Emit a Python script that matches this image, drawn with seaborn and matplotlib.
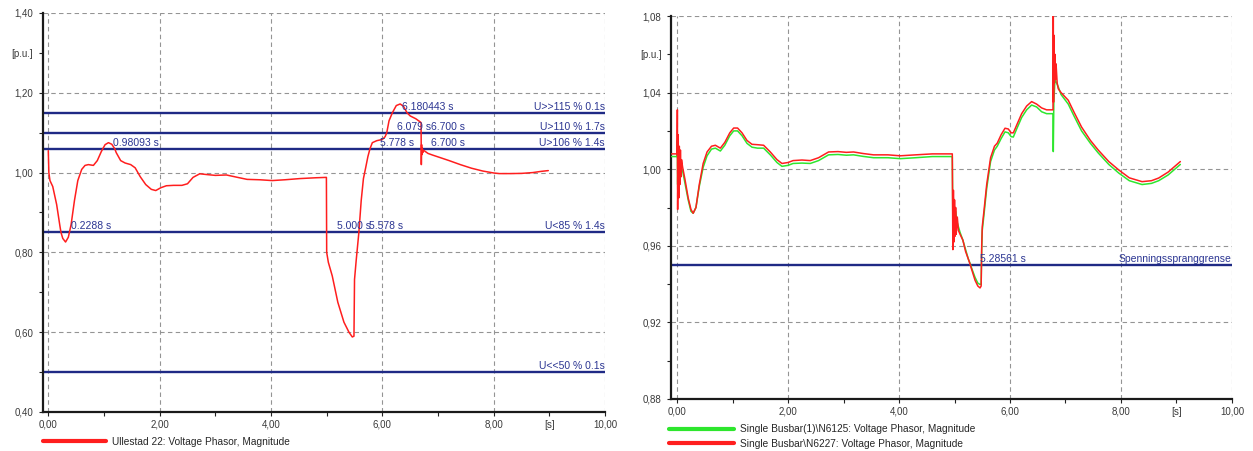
import matplotlib
matplotlib.use("Agg")
import matplotlib.pyplot as plt
from matplotlib.ticker import FixedLocator, FixedFormatter
import pandas as pd
import seaborn as sns

# ---------------------------------------------------------------- data
# Ullestad 22: voltage phasor magnitude [p.u.] vs. time [s]
t_ull = [0.00, 0.01, 0.03, 0.08, 0.15, 0.21, 0.228, 0.26, 0.31, 0.36, 0.41, 0.47,
         0.53, 0.60, 0.66, 0.72, 0.81, 0.88, 0.95, 0.98, 1.02, 1.08, 1.14, 1.193,
         1.22, 1.30, 1.38, 1.48, 1.56, 1.65, 1.75, 1.85, 1.93, 2.02, 2.12, 2.25,
         2.40, 2.50, 2.60, 2.72, 2.85, 3.00, 3.20, 3.40, 3.57, 3.80, 4.02, 4.25,
         4.52, 4.80, 4.995, 5.000, 5.03, 5.10, 5.20, 5.31, 5.40, 5.46, 5.49, 5.50,
         5.53, 5.578, 5.62, 5.66, 5.70, 5.74, 5.778, 5.82, 5.90, 6.00, 6.05, 6.079,
         6.12, 6.18, 6.25, 6.32, 6.38, 6.443, 6.50, 6.60, 6.68, 6.695, 6.700, 6.705,
         6.71, 6.715, 6.725, 6.74, 6.78, 6.82, 6.90, 7.04, 7.20, 7.40, 7.60, 7.80,
         8.00, 8.10, 8.30, 8.50, 8.70, 8.85, 8.98]
u_ull = [1.055, 1.000, 0.980, 0.965, 0.920, 0.865, 0.850, 0.835, 0.826, 0.838, 0.870, 0.930,
         0.980, 1.008, 1.018, 1.020, 1.018, 1.030, 1.052, 1.060, 1.070, 1.075, 1.071, 1.060,
         1.050, 1.030, 1.024, 1.020, 1.012, 0.990, 0.970, 0.958, 0.955, 0.962, 0.967, 0.968,
         0.968, 0.972, 0.988, 0.997, 0.995, 0.993, 0.994, 0.988, 0.983, 0.982, 0.980, 0.982,
         0.985, 0.987, 0.988, 0.800, 0.775, 0.741, 0.675, 0.625, 0.600, 0.588, 0.590, 0.732,
         0.780, 0.850, 0.930, 0.985, 1.012, 1.040, 1.060, 1.075, 1.080, 1.083, 1.090, 1.100,
         1.130, 1.150, 1.168, 1.172, 1.166, 1.150, 1.142, 1.135, 1.127, 1.125, 1.020, 1.070,
         1.045, 1.062, 1.050, 1.056, 1.052, 1.048, 1.044, 1.0375, 1.030, 1.020, 1.011, 1.004,
         0.999, 0.9975, 0.9975, 0.998, 1.000, 1.003, 1.005]

# Protection limits, left panel
lim_left_level = [1.15, 1.10, 1.06, 0.85, 0.50]
lim_left_name = ["U>>115 % 0.1s", "U>110 % 1.7s", "U>106 % 1.4s", "U<85 % 1.4s", "U<<50 % 0.1s"]
# Limit crossing tags, left panel (tag text, anchor time, limit level)
tag_left_text = ["0.98093 s", "0.2288 s", "6.180443 s", "6.079 s", "6.700 s",
                 "5.778 s", "6.700 s", "5.000 s", "5.578 s"]
tag_left_time = [0.980, 0.228, 6.180, 6.079, 6.700, 5.778, 6.700, 5.000, 5.578]
tag_left_level = [1.06, 0.85, 1.15, 1.10, 1.10, 1.06, 1.06, 0.85, 0.85]

# Single Busbar(1)\N6125: voltage phasor magnitude
t_n6125 = [-0.10, 0.00, 0.005, 0.01, 0.02, 0.03, 0.05, 0.08, 0.10, 0.14, 0.20, 0.25,
           0.29, 0.34, 0.40, 0.47, 0.54, 0.62, 0.69, 0.78, 0.86, 0.95, 1.02, 1.09,
           1.17, 1.26, 1.35, 1.45, 1.56, 1.68, 1.80, 1.89, 2.00, 2.09, 2.25, 2.40,
           2.55, 2.73, 2.90, 3.05, 3.18, 3.35, 3.54, 3.80, 4.02, 4.30, 4.60, 4.96,
           4.97, 4.98, 5.00, 5.02, 5.05, 5.10, 5.15, 5.20, 5.25, 5.285, 5.30, 5.37,
           5.42, 5.46, 5.48, 5.49, 5.50, 5.53, 5.58, 5.65, 5.72, 5.77, 5.84, 5.91,
           5.97, 6.02, 6.06, 6.12, 6.21, 6.30, 6.39, 6.48, 6.57, 6.66, 6.75, 6.775,
           6.78, 6.79, 6.81, 6.84, 6.87, 6.92, 7.05, 7.15, 7.29, 7.45, 7.59, 7.78,
           7.96, 8.15, 8.38, 8.55, 8.68, 8.85, 9.07]
u_n6125 = [1.0066, 1.0066, 1.015, 0.992, 1.010, 0.996, 1.004, 1.000, 0.999, 0.993, 0.984, 0.978,
           0.977, 0.980, 0.991, 1.001, 1.007, 1.0105, 1.011, 1.0095, 1.0125, 1.0175, 1.020, 1.020,
           1.0175, 1.0135, 1.0115, 1.011, 1.011, 1.0075, 1.0035, 1.0015, 1.002, 1.003, 1.0032, 1.003,
           1.0045, 1.0075, 1.0077, 1.0073, 1.0075, 1.0067, 1.006, 1.006, 1.0055, 1.006, 1.0066, 1.0066,
           0.972, 0.985, 0.974, 0.978, 0.972, 0.967, 0.963, 0.958, 0.953, 0.9505, 0.949, 0.9435,
           0.9405, 0.9398, 0.940, 0.958, 0.968, 0.976, 0.990, 1.004, 1.010, 1.012, 1.016, 1.0195,
           1.019, 1.017, 1.0168, 1.021, 1.027, 1.031, 1.0335, 1.0325, 1.030, 1.029, 1.029, 1.029,
           1.0092, 1.035, 1.047, 1.045, 1.043, 1.039, 1.034, 1.028, 1.020, 1.0135, 1.0085, 1.0025,
           0.998, 0.994, 0.992, 0.9926, 0.994, 0.997, 1.0025]

# Single Busbar\N6227: voltage phasor magnitude
t_n6227 = [-0.10, 0.00, 0.005, 0.01, 0.02, 0.03, 0.04, 0.05, 0.06, 0.07, 0.08, 0.10,
           0.14, 0.20, 0.25, 0.29, 0.34, 0.40, 0.47, 0.54, 0.62, 0.69, 0.78, 0.86,
           0.95, 1.02, 1.09, 1.17, 1.26, 1.35, 1.45, 1.56, 1.68, 1.80, 1.89, 2.00,
           2.09, 2.25, 2.40, 2.55, 2.73, 2.90, 3.05, 3.18, 3.35, 3.54, 3.80, 4.02,
           4.30, 4.60, 4.96, 4.97, 4.98, 4.99, 5.00, 5.01, 5.02, 5.03, 5.05, 5.07,
           5.10, 5.15, 5.20, 5.25, 5.285, 5.30, 5.37, 5.42, 5.46, 5.48, 5.49, 5.50,
           5.53, 5.58, 5.65, 5.72, 5.77, 5.84, 5.91, 5.97, 6.02, 6.06, 6.12, 6.21,
           6.30, 6.39, 6.48, 6.57, 6.66, 6.75, 6.775, 6.78, 6.785, 6.79, 6.80, 6.81,
           6.82, 6.83, 6.85, 6.87, 6.92, 7.05, 7.15, 7.29, 7.45, 7.59, 7.78, 7.96,
           8.15, 8.38, 8.55, 8.68, 8.85, 9.07]
u_n6227 = [1.008, 1.008, 1.031, 0.979, 1.018, 0.985, 1.012, 0.992, 1.010, 0.996, 1.005, 1.001,
           0.995, 0.985, 0.979, 0.977, 0.980, 0.992, 1.003, 1.009, 1.012, 1.0125, 1.011, 1.014,
           1.019, 1.0215, 1.0215, 1.019, 1.015, 1.013, 1.0128, 1.0125, 1.009, 1.005, 1.003, 1.0035,
           1.0045, 1.0048, 1.0045, 1.006, 1.009, 1.0092, 1.0088, 1.009, 1.0082, 1.0075, 1.0075, 1.007,
           1.0075, 1.008, 1.008, 0.958, 0.989, 0.962, 0.984, 0.965, 0.980, 0.966, 0.975, 0.968,
           0.966, 0.963, 0.957, 0.953, 0.950, 0.9485, 0.942, 0.939, 0.938, 0.939, 0.960, 0.970,
           0.978, 0.992, 1.006, 1.012, 1.0136, 1.018, 1.0214, 1.021, 1.019, 1.019, 1.023, 1.029,
           1.033, 1.0353, 1.034, 1.032, 1.031, 1.031, 1.031, 1.080, 1.035, 1.070, 1.045, 1.060,
           1.047, 1.055, 1.045, 1.042, 1.040, 1.036, 1.030, 1.022, 1.015, 1.010, 1.004, 0.9996,
           0.9955, 0.9935, 0.994, 0.9954, 0.9985, 1.004]

# Voltage step limit, right panel
lim_right_level = [0.95]
lim_right_name = ["Spenningsspranggrense"]
tag_right_text = ["5.28561 s"]
tag_right_time = [5.285]
tag_right_level = [0.95]

# Axis ticks and labels
x_major = [0, 2, 4, 6, 8, 10]
x_major_lab = ["0,00", "2,00", "4,00", "6,00", "8,00", "10,00"]
x_minor = [1, 3, 5, 7, 9]
x_minor_lab = ["", "", "", "", "[s]"]

yl_major = [0.40, 0.60, 0.80, 1.00, 1.20, 1.40]
yl_major_lab = ["0,40", "0,60", "0,80", "1,00", "1,20", "1,40"]
yl_minor = [0.50, 0.70, 0.90, 1.10, 1.30]
yl_minor_lab = ["", "", "", "", "[p.u.]"]

yr_major = [0.88, 0.92, 0.96, 1.00, 1.04, 1.08]
yr_major_lab = ["0,88", "0,92", "0,96", "1,00", "1,04", "1,08"]
yr_minor = [0.90, 0.94, 0.98, 1.02, 1.06]
yr_minor_lab = ["", "", "", "", "[p.u.]"]

# ---------------------------------------------------------------- style
sns.set_style("white")
plt.rcParams["font.family"] = ["Liberation Sans", "DejaVu Sans"]

RED = "#ff1e1e"
GREEN = "#2ee62e"
NAVY = "#1f2a85"
NAVY_TXT = "#2b3592"
GRID = "#949494"
TICK_TXT = "#3a3a3a"

fig = plt.figure(figsize=(12.53, 4.51), dpi=100)
ax_l = fig.add_axes([0.0341, 0.0865, 0.4488, 0.8847])
ax_r = fig.add_axes([0.5355, 0.1153, 0.4477, 0.8492])


def style_axes(ax, ylim, ymaj, ymaj_lab, ymin, ymin_lab):
    ax.set_xlim(-0.1, 10.0)
    ax.set_ylim(*ylim)
    ax.xaxis.set_major_locator(FixedLocator(x_major))
    ax.xaxis.set_major_formatter(FixedFormatter(x_major_lab))
    ax.xaxis.set_minor_locator(FixedLocator(x_minor))
    ax.xaxis.set_minor_formatter(FixedFormatter(x_minor_lab))
    ax.yaxis.set_major_locator(FixedLocator(ymaj))
    ax.yaxis.set_major_formatter(FixedFormatter(ymaj_lab))
    ax.yaxis.set_minor_locator(FixedLocator(ymin))
    ax.yaxis.set_minor_formatter(FixedFormatter(ymin_lab))
    ax.tick_params(axis="both", which="both", direction="out", length=2.6,
                   width=0.8, color="#222222", labelsize=7, labelcolor=TICK_TXT,
                   left=True, bottom=True)
    ax.tick_params(axis="y", which="both", pad=4.3)
    ax.tick_params(axis="x", which="both", pad=3.0)
    ax.grid(True, which="major", color=GRID, linestyle=(0, (4, 3)), linewidth=0.8)
    ax.set_axisbelow(True)
    for side in ("top", "right"):
        ax.spines[side].set_visible(False)
    for side in ("left", "bottom"):
        ax.spines[side].set_color("#1a1a1a")
        ax.spines[side].set_linewidth(1.6)
    ax.set_xlabel("")
    ax.set_ylabel("")


def draw_limits(ax, levels, names, tags, tag_t, tag_lv):
    for lv, nm in zip(levels, names):
        ax.axhline(lv, color=NAVY, linewidth=1.7, zorder=2)
        ax.annotate(nm, xy=(10.0, lv), xytext=(0, 0.8), textcoords="offset points",
                    ha="right", va="bottom", fontsize=7.5, color=NAVY_TXT, zorder=4)
    for txt, tc, lv in zip(tags, tag_t, tag_lv):
        ax.annotate(txt, xy=(tc, lv), xytext=(7.2, 0.8),
                    textcoords="offset points", ha="left", va="bottom",
                    fontsize=7.5, color=NAVY_TXT, zorder=4)


# ---------------------------------------------------------------- left panel
df_ull = pd.DataFrame({"t": t_ull, "u": u_ull})
sns.lineplot(data=df_ull, x="t", y="u", ax=ax_l, color=RED, linewidth=1.1,
             estimator=None, sort=False, label="Ullestad 22: Voltage Phasor, Magnitude",
             zorder=3)
draw_limits(ax_l, lim_left_level, lim_left_name, tag_left_text, tag_left_time, tag_left_level)
style_axes(ax_l, (0.40, 1.40), yl_major, yl_major_lab, yl_minor, yl_minor_lab)

leg_l = ax_l.legend(loc="center left", bbox_to_anchor=(0.0, -0.0744), frameon=False,
                    fontsize=7.3, handlelength=6.2, handletextpad=0.65,
                    borderpad=0, borderaxespad=0)
for h in leg_l.get_lines():
    h.set_linewidth(3.0)

# ---------------------------------------------------------------- right panel
df_g = pd.DataFrame({"t": t_n6125, "u": u_n6125})
df_r = pd.DataFrame({"t": t_n6227, "u": u_n6227})
sns.lineplot(data=df_g, x="t", y="u", ax=ax_r, color=GREEN, linewidth=1.1,
             estimator=None, sort=False,
             label=r"Single Busbar(1)\N6125: Voltage Phasor, Magnitude", zorder=3)
sns.lineplot(data=df_r, x="t", y="u", ax=ax_r, color=RED, linewidth=1.1,
             estimator=None, sort=False,
             label=r"Single Busbar\N6227: Voltage Phasor, Magnitude", zorder=3)
draw_limits(ax_r, lim_right_level, lim_right_name, tag_right_text, tag_right_time,
            tag_right_level)
style_axes(ax_r, (0.88, 1.08), yr_major, yr_major_lab, yr_minor, yr_minor_lab)
ax_r.set_xlim(-0.11, 10.0)

leg_r = ax_r.legend(loc="center left", bbox_to_anchor=(-0.004, -0.098), frameon=False,
                    fontsize=7.3, handlelength=6.4, handletextpad=0.65,
                    labelspacing=0.45, borderpad=0, borderaxespad=0)
for h in leg_r.get_lines():
    h.set_linewidth(3.0)

fig.savefig("out.png", dpi=100)
